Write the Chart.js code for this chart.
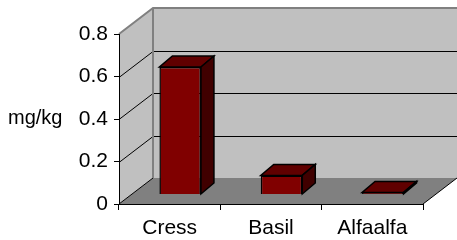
<!DOCTYPE html>
<html><head><meta charset="utf-8">
<script src="https://cdn.jsdelivr.net/npm/chart.js@4/dist/chart.umd.min.js"></script>
<style>html,body{margin:0;padding:0;background:#fff}</style>
</head><body>
<canvas id="c" width="457" height="240"></canvas>
<script>
const categories = ['Cress', 'Basil', 'Alfaalfa'];
const values = [0.6, 0.09, 0.01];
const yMin = 0, yMax = 0.8, yStep = 0.2;
const yTitle = 'mg/kg';

// 3D geometry (pixels)
const WALL_DX = 34, WALL_DY = 26;   // depth of walls/floor
const FACE_DX = 10.5, FACE_DY = 9.5; // bar front face offset into the floor
const BAR_DX = 13, BAR_DY = 11;     // bar depth
const FONT = "'Liberation Sans', Arial, sans-serif";

const threeD = {
  id: 'threeD',
  beforeDraw(chart) {
    const ctx = chart.ctx, a = chart.chartArea, ys = chart.scales.y;
    const L = a.left, R = a.right, T = a.top, B = a.bottom;
    ctx.save();
    ctx.fillStyle = '#c0c0c0';
    ctx.beginPath();
    ctx.moveTo(L, B); ctx.lineTo(L, T); ctx.lineTo(L + WALL_DX, T - WALL_DY); ctx.lineTo(L + WALL_DX, B - WALL_DY);
    ctx.closePath(); ctx.fill();
    ctx.fillRect(L + WALL_DX, T - WALL_DY, R - L, B - T);
    ctx.fillStyle = '#808080';
    ctx.beginPath();
    ctx.moveTo(L, B); ctx.lineTo(R, B); ctx.lineTo(R + WALL_DX, B - WALL_DY); ctx.lineTo(L + WALL_DX, B - WALL_DY);
    ctx.closePath(); ctx.fill();
    ctx.strokeStyle = '#000'; ctx.lineWidth = 1;
    ys.ticks.forEach(t => {
      if (t.value <= yMin || t.value >= yMax) return;
      const py = Math.round(ys.getPixelForValue(t.value)) + 0.5;
      ctx.beginPath();
      ctx.moveTo(L, py); ctx.lineTo(L + WALL_DX, py - WALL_DY); ctx.lineTo(R + WALL_DX, py - WALL_DY);
      ctx.stroke();
    });
    ctx.beginPath();
    ctx.moveTo(L, B); ctx.lineTo(L + WALL_DX, B - WALL_DY);
    ctx.moveTo(R, B); ctx.lineTo(R + WALL_DX, B - WALL_DY);
    ctx.stroke();
    ctx.strokeStyle = '#808080'; ctx.lineWidth = 2;
    ctx.beginPath();
    ctx.moveTo(L, T); ctx.lineTo(L + WALL_DX, T - WALL_DY); ctx.lineTo(R + WALL_DX, T - WALL_DY);
    ctx.moveTo(L + WALL_DX, T - WALL_DY); ctx.lineTo(L + WALL_DX, B - WALL_DY);
    ctx.stroke();
    ctx.restore();
  },
  beforeDatasetDraw(chart) {
    chart.ctx.save();
    chart.ctx.translate(FACE_DX, -FACE_DY);
  },
  afterDatasetDraw(chart, args) {
    const ctx = chart.ctx;
    args.meta.data.forEach(el => {
      const l = el.x - el.width / 2, r = el.x + el.width / 2, top = el.y, base = el.base;
      ctx.lineWidth = 1.5; ctx.strokeStyle = '#000'; ctx.lineJoin = 'miter';
      ctx.fillStyle = '#600000';
      ctx.beginPath();
      ctx.moveTo(l, top); ctx.lineTo(r, top); ctx.lineTo(r + BAR_DX, top - BAR_DY); ctx.lineTo(l + BAR_DX, top - BAR_DY);
      ctx.closePath(); ctx.fill(); ctx.stroke();
      ctx.fillStyle = '#400000';
      ctx.beginPath();
      ctx.moveTo(r, top); ctx.lineTo(r + BAR_DX, top - BAR_DY); ctx.lineTo(r + BAR_DX, base - BAR_DY); ctx.lineTo(r, base);
      ctx.closePath(); ctx.fill(); ctx.stroke();
    });
    ctx.restore();
  },
  afterDraw(chart) {
    const ctx = chart.ctx, ys = chart.scales.y;
    ctx.save();
    ctx.font = '20px ' + FONT;
    ctx.fillStyle = '#000';
    ctx.textAlign = 'left';
    ctx.textBaseline = 'middle';
    ctx.fillText(yTitle, 8, ys.getPixelForValue((yMin + yMax) / 2) - 1);
    ctx.restore();
  }
};

new Chart(document.getElementById('c'), {
  type: 'bar',
  data: {
    labels: categories,
    datasets: [{
      data: values,
      backgroundColor: '#800000',
      borderColor: '#000',
      borderWidth: 1.5,
      barPercentage: 0.41,
      categoryPercentage: 1,
      clip: false
    }]
  },
  options: {
    responsive: false,
    animation: false,
    layout: { padding: { top: 34, right: 34, left: 0, bottom: 0 } },
    plugins: { legend: { display: false }, tooltip: { enabled: false } },
    scales: {
      x: {
        afterFit(s) { s.height = 36; },
        grid: { offset: true, drawOnChartArea: false, tickLength: 6, color: '#000', lineWidth: 1 },
        border: { display: true, color: '#000', width: 1 },
        ticks: { color: '#000', font: { family: FONT, size: 21 }, padding: 6, maxRotation: 0 }
      },
      y: {
        min: yMin, max: yMax,
        afterFit(s) { s.width = 119; },
        grid: { drawOnChartArea: false, tickLength: 5, color: '#000', lineWidth: 1 },
        border: { display: true, color: '#000', width: 1 },
        ticks: { stepSize: yStep, color: '#000', font: { family: FONT, size: 21 }, padding: 6 }
      }
    }
  },
  plugins: [threeD]
});
</script>
</body></html>
